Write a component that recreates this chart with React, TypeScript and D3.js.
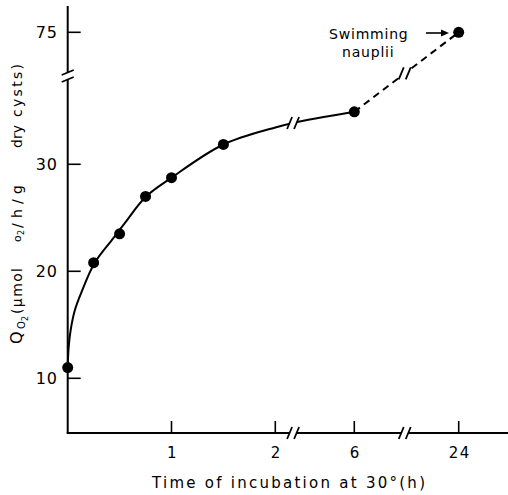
import React from "react";
import * as d3 from "d3";

// measured points
const hours = [0, 0.25, 0.5, 0.75, 1, 1.5, 6, 24];
const qo2 = [11.0, 20.8, 23.5, 27.0, 28.75, 31.85, 34.9, 75];
// hand-drawn fitted curve
const fitHours = [0, 0.01, 0.03, 0.07, 0.135, 0.26, 0.44, 0.55, 0.75, 1.0, 1.5, 2.0, 2.9, 6];
const fitQ = [11.0, 13.0, 14.6, 16.4, 18.1, 20.8, 23.1, 24.5, 26.95, 28.75, 31.85, 33.44, 33.86, 34.9];

const xTickValues = [1, 2, 6, 24];
const xTickLabels = ["1", "2", "6", "24"];
const yTickValues = [10, 20, 30, 75];
const yTickLabels = ["10", "20", "30", "75"];
const xBreaks = [2.9, 14.7];
const yBreak = 38.25;

const W = 508;
const H = 495;
const FONT = "'DejaVu Sans', 'Liberation Sans', sans-serif";

function BreakMarks({ x, y, vertical }: { x: number; y: number; vertical?: boolean }) {
  if (vertical) {
    return (
      <g>
        <rect x={x - 4} y={y - 3.5} width={8} height={7} fill="white" />
        <line x1={x - 6} y1={y - 1} x2={x + 6} y2={y - 6} stroke="black" strokeWidth={1.8} />
        <line x1={x - 6} y1={y + 6} x2={x + 6} y2={y + 1} stroke="black" strokeWidth={1.8} />
      </g>
    );
  }
  return (
    <g>
      <rect x={x - 3.5} y={y - 4} width={7} height={8} fill="white" />
      <line x1={x - 6} y1={y + 6} x2={x - 1} y2={y - 6} stroke="black" strokeWidth={1.8} />
      <line x1={x + 1} y1={y + 6} x2={x + 6} y2={y - 6} stroke="black" strokeWidth={1.8} />
    </g>
  );
}

export default function App() {
  const x = d3.scaleLinear().domain([0, 2, 6, 24]).range([67.7, 275.3, 354.3, 458.7]);
  const y = d3.scaleLinear().domain([10, yBreak, 75]).range([378.3, 76, 32.3]);

  const axisY = 433;
  const axisX = x(0);

  const pts = hours.map((h, i) => [x(h), y(qo2[i])] as [number, number]);
  const fitPts = fitHours.map((h, i) => [x(h), y(fitQ[i])] as [number, number]);
  const dashPts = pts.slice(6);

  const solidLine = d3.line().curve(d3.curveCatmullRom.alpha(0.5))(fitPts) || "";
  const dashLine = d3.line()(dashPts) || "";

  const b1x = x(xBreaks[0]);
  const b2x = x(xBreaks[1]);
  const t2 = (b2x - dashPts[0][0]) / (dashPts[1][0] - dashPts[0][0]);
  const b2y = dashPts[0][1] + t2 * (dashPts[1][1] - dashPts[0][1]);
  const b1y = y(fitQ[fitHours.indexOf(xBreaks[0])]);

  const lab = { fontSize: 14, lengthAdjust: "spacing" } as const;

  return (
    <svg width={W} height={H} style={{ position: "absolute", left: 0, top: 0, background: "white" }} fontFamily={FONT}>
      <line x1={axisX} y1={6} x2={axisX} y2={axisY} stroke="black" strokeWidth={2} />
      <line x1={axisX - 1} y1={axisY} x2={W} y2={axisY} stroke="black" strokeWidth={2} />

      {yTickValues.map((v, i) => (
        <g key={"yt" + i}>
          <line x1={axisX} x2={axisX + 13} y1={y(v)} y2={y(v)} stroke="black" strokeWidth={1.6} />
          <text x={58} y={y(v)} dy="0.36em" textAnchor="end" fontSize={16} letterSpacing={1}>
            {yTickLabels[i]}
          </text>
        </g>
      ))}

      {xTickValues.map((v, i) => (
        <g key={"xt" + i}>
          <line x1={x(v)} x2={x(v)} y1={axisY} y2={axisY - 12} stroke="black" strokeWidth={1.6} />
          <text x={x(v) + 1} y={458} textAnchor="middle" fontSize={15} letterSpacing={1.5}>
            {xTickLabels[i]}
          </text>
        </g>
      ))}

      <BreakMarks x={axisX} y={y(yBreak)} vertical />
      <BreakMarks x={b1x} y={axisY} />
      <BreakMarks x={b2x} y={axisY} />

      <path d={solidLine} fill="none" stroke="black" strokeWidth={2} />
      <path d={dashLine} fill="none" stroke="black" strokeWidth={2} strokeDasharray="7,5" />
      <BreakMarks x={b1x} y={b1y} />
      <BreakMarks x={b2x} y={b2y} />

      {pts.map((p, i) => (
        <circle key={"pt" + i} cx={p[0]} cy={p[1]} r={5.5} fill="black" />
      ))}

      <text x={329} y={39} fontSize={14} letterSpacing={0.8}>Swimming</text>
      <text x={342} y={57} fontSize={14} letterSpacing={0.8}>nauplii</text>
      <line x1={426} y1={33} x2={444} y2={33} stroke="black" strokeWidth={1.6} />
      <path d="M 449 33 L 441 29.5 L 441 36.5 Z" fill="black" />

      <text x={152} y={488} fontSize={15} textLength={273} lengthAdjust="spacing">
        Time of incubation at 30°(h)
      </text>

      <g transform="translate(22,344) rotate(-90)">
        <text x={0} y={0} fontSize={16}>Q</text>
        <text x={15} y={3} fontSize={10}>O</text>
        <text x={23} y={6} fontSize={8}>2</text>
        <text x={30} y={0} {...lab} textLength={46}>(μmol</text>
        <text x={102} y={-1} fontSize={11}>o</text>
        <text x={109} y={2} fontSize={8}>2</text>
        <text x={116} y={0} {...lab} textLength={43}>/h/g</text>
        <text x={196} y={0} {...lab} textLength={23}>dry</text>
        <text x={227} y={0} {...lab} textLength={53}>cysts)</text>
      </g>
    </svg>
  );
}
